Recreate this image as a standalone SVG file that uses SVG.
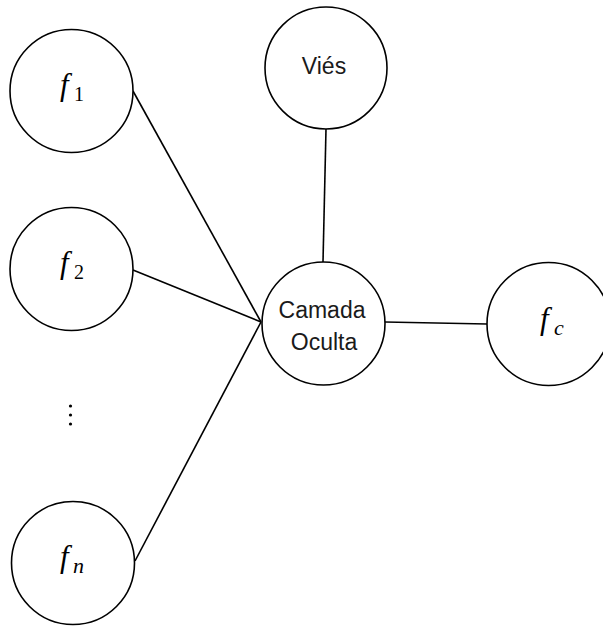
<svg xmlns="http://www.w3.org/2000/svg" width="603" height="626" viewBox="0 0 603 626">
  <style>
    .node { fill: #ffffff; stroke: #000000; stroke-width: 1.6; }
    .edge { stroke: #000000; stroke-width: 1.6; fill: none; }
    .lbl { font-family: "Liberation Sans", Arial, sans-serif; font-size: 23px; fill: #1a1a1a; text-anchor: middle; }
    .var { font-family: "Liberation Serif", "DejaVu Serif", serif; font-style: italic; font-size: 31px; fill: #000; }
    .sub { font-family: "Liberation Serif", "DejaVu Serif", serif; font-style: normal; font-size: 20px; fill: #000; }
    .subi { font-family: "Liberation Serif", "DejaVu Serif", serif; font-style: italic; font-size: 22px; fill: #000; }
  </style>
  <rect width="603" height="626" fill="#ffffff"/>

  <g id="connectors">
    <line class="edge" x1="133" y1="91" x2="261" y2="322"/>
    <line class="edge" x1="133" y1="270" x2="261" y2="322"/>
    <line class="edge" x1="135" y1="561" x2="261" y2="322"/>
    <line class="edge" x1="326" y1="129" x2="323" y2="262"/>
    <line class="edge" x1="385" y1="322" x2="487" y2="324"/>
  </g>

  <g id="f1">
    <circle class="node" cx="71.5" cy="91" r="61.5"/>
    <text class="var" x="60" y="95">f</text>
    <text class="sub" x="74" y="101">1</text>
  </g>

  <g id="f2">
    <circle class="node" cx="71.5" cy="269" r="61.5"/>
    <text class="var" x="60" y="273">f</text>
    <text class="sub" x="74" y="279">2</text>
  </g>

  <g id="ellipsis">
    <circle cx="70.5" cy="406" r="1.6" fill="#000"/>
    <circle cx="70.5" cy="415" r="1.6" fill="#000"/>
    <circle cx="70.5" cy="424" r="1.6" fill="#000"/>
  </g>

  <g id="fn">
    <circle class="node" cx="73" cy="563" r="61.5"/>
    <text class="var" x="60" y="567">f</text>
    <text class="subi" x="73" y="573">n</text>
  </g>

  <g id="vies">
    <circle class="node" cx="326" cy="68" r="61"/>
    <text class="lbl" x="324" y="74">Viés</text>
  </g>

  <g id="camada-oculta">
    <circle class="node" cx="323.5" cy="323.5" r="61.5"/>
    <text class="lbl" x="322" y="318">Camada</text>
    <text class="lbl" x="324" y="350">Oculta</text>
  </g>

  <g id="fc">
    <circle class="node" cx="548.5" cy="324" r="61.5"/>
    <text class="var" x="540" y="329">f</text>
    <text class="subi" x="554" y="335">c</text>
  </g>
</svg>
